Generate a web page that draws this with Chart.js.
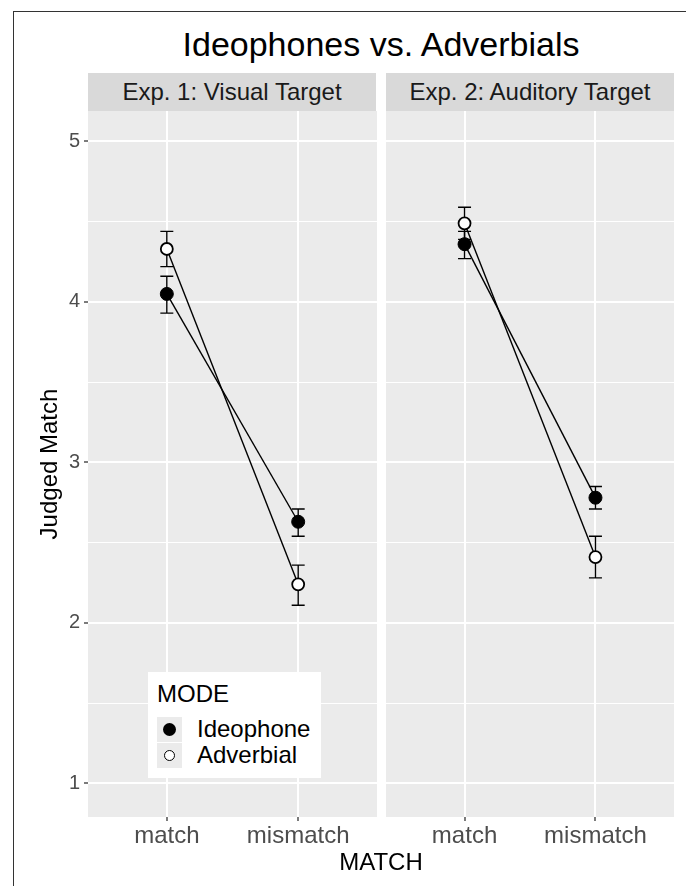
<!DOCTYPE html>
<html>
<head>
<meta charset="utf-8">
<script src="https://cdn.jsdelivr.net/npm/chart.js@4.4.1/dist/chart.umd.min.js"></script>
<style>
  body { margin: 0; background: #fff; font-family: "Liberation Sans", Arial, sans-serif; }
  #wrap { position: relative; width: 686px; height: 886px; overflow: hidden; }
  .frame { position: absolute; left: 13px; top: 11px; width: 700px; height: 900px;
           border-left: 1.5px solid #333; border-top: 1.5px solid #333; }
  .title { position: absolute; left: 88px; width: 586px; top: 24px; text-align: center;
           font-size: 34px; color: #000; line-height: 40px; }
  .strip { position: absolute; top: 73px; height: 38px; width: 288px; background: #d9d9d9;
           text-align: center; line-height: 38px; font-size: 24px; color: #1a1a1a; }
  .xtitle { position: absolute; left: 88px; width: 586px; top: 848px; text-align: center;
            font-size: 24px; color: #000; line-height: 28px; }
  canvas { position: absolute; top: 111px; }
  #legend { position: absolute; left: 148px; top: 672px; width: 173px; height: 106px; background: #fff; }
  #legend .head { position: absolute; left: 9px; top: 8px; font-size: 24px; line-height: 28px; }
  #legend .row { position: absolute; left: 9px; height: 25px; }
  #legend .key { position: absolute; left: 0; top: 0; width: 25px; height: 25px; background: #ebebeb; }
  #legend .dot { position: absolute; left: 6px; top: 6px; width: 13px; height: 13px; border-radius: 50%; box-sizing: border-box; }
  #legend .lab { position: absolute; left: 40px; top: -2px; font-size: 24px; line-height: 28px; white-space: nowrap; }
</style>
</head>
<body>
<div id="wrap">
  <div class="frame"></div>
  <div class="title">Ideophones vs. Adverbials</div>
  <div class="strip" style="left:88px" id="strip1"></div>
  <div class="strip" style="left:386px" id="strip2"></div>
  <canvas id="exp1" width="377" height="746" style="left:0"></canvas>
  <canvas id="exp2" width="288" height="746" style="left:386px"></canvas>
  <div class="xtitle">MATCH</div>
  <div id="legend"></div>
</div>
<script>
// categories and facets
const categories = ['match', 'mismatch'];
const panelTitles = ['Exp. 1: Visual Target', 'Exp. 2: Auditory Target'];
const modes = ['Ideophone', 'Adverbial'];

// means and error bar ends
const ideophoneExp1 = [4.05, 2.63];
const ideophoneExp1Lo = [3.93, 2.54];
const ideophoneExp1Hi = [4.16, 2.71];
const adverbialExp1 = [4.33, 2.24];
const adverbialExp1Lo = [4.22, 2.11];
const adverbialExp1Hi = [4.44, 2.36];

const ideophoneExp2 = [4.36, 2.78];
const ideophoneExp2Lo = [4.27, 2.71];
const ideophoneExp2Hi = [4.44, 2.85];
const adverbialExp2 = [4.49, 2.41];
const adverbialExp2Lo = [4.39, 2.28];
const adverbialExp2Hi = [4.59, 2.54];

// axis ticks
const yTicks = [1, 2, 3, 4, 5];
const yMinor = [1.5, 2.5, 3.5, 4.5];

document.getElementById('strip1').textContent = panelTitles[0];
document.getElementById('strip2').textContent = panelTitles[1];

// legend
const legend = document.getElementById('legend');
legend.innerHTML = '<div class="head">MODE</div>';
modes.forEach(function (m, i) {
  const fill = i === 0 ? 'background:#000;' : 'background:#fff;border:1.5px solid #000;width:11px;height:11px;left:7px;top:7px;';
  legend.innerHTML += '<div class="row" style="top:' + (45 + i * 26) + 'px"><div class="key"><div class="dot" style="' + fill + '"></div></div><div class="lab">' + m + '</div></div>';
});

function toPoints(values) {
  return values.map(function (v, i) { return { x: i + 1, y: v }; });
}

// panel background
const panelBg = {
  id: 'panelBg',
  beforeDraw(chart) {
    const a = chart.chartArea;
    chart.ctx.save();
    chart.ctx.fillStyle = '#ebebeb';
    chart.ctx.fillRect(a.left, a.top, a.right - a.left, a.bottom - a.top);
    chart.ctx.restore();
  }
};

// error bars drawn under lines and points
const errorBars = {
  id: 'errorBars',
  beforeDatasetsDraw(chart) {
    const ctx = chart.ctx;
    const y = chart.scales.y;
    ctx.save();
    ctx.strokeStyle = '#000';
    ctx.lineWidth = 1.4;
    chart.data.datasets.forEach(function (ds, di) {
      if (!ds.errLo) return;
      const meta = chart.getDatasetMeta(di);
      meta.data.forEach(function (pt, i) {
        const top = y.getPixelForValue(ds.errHi[i]);
        const bot = y.getPixelForValue(ds.errLo[i]);
        ctx.beginPath();
        ctx.moveTo(pt.x, top); ctx.lineTo(pt.x, bot);
        ctx.moveTo(pt.x - 6.5, top); ctx.lineTo(pt.x + 6.5, top);
        ctx.moveTo(pt.x - 6.5, bot); ctx.lineTo(pt.x + 6.5, bot);
        ctx.stroke();
      });
    });
    ctx.restore();
  }
};

function makePanel(id, ideo, ideoLo, ideoHi, adv, advLo, advHi, showY) {
  const ctx = document.getElementById(id).getContext('2d');
  new Chart(ctx, {
    type: 'scatter',
    data: {
      datasets: [{
        label: modes[0],
        data: toPoints(ideo),
        errLo: ideoLo, errHi: ideoHi,
        showLine: false,
        pointRadius: 6.5,
        pointBackgroundColor: '#000',
        pointBorderColor: '#000',
        pointBorderWidth: 1,
        order: 1
      }, {
        label: modes[1],
        data: toPoints(adv),
        errLo: advLo, errHi: advHi,
        showLine: false,
        pointRadius: 6,
        pointBackgroundColor: '#fff',
        pointBorderColor: '#000',
        pointBorderWidth: 1.8,
        order: 1
      }, {
        data: toPoints(ideo),
        showLine: true,
        pointRadius: 0,
        borderColor: '#000',
        borderWidth: 1.4,
        order: 2
      }, {
        data: toPoints(adv),
        showLine: true,
        pointRadius: 0,
        borderColor: '#000',
        borderWidth: 1.4,
        order: 2
      }]
    },
    options: {
      responsive: false,
      animation: false,
      layout: { padding: 0, autoPadding: false },
      plugins: {
        legend: { display: false },
        tooltip: { enabled: false }
      },
      scales: {
        x: {
          type: 'linear',
          min: 0.4,
          max: 2.6,
          afterBuildTicks: function (scale) {
            scale.ticks = categories.map(function (c, i) { return { value: i + 1 }; });
          },
          afterFit: function (scale) {
            scale.height = 40;
            scale.paddingLeft = 0;
            scale.paddingRight = 0;
          },
          ticks: {
            callback: function (v) { return categories[v - 1]; },
            font: { family: 'Liberation Sans', size: 24 },
            color: '#4d4d4d',
            padding: 1,
            maxRotation: 0
          },
          grid: {
            color: '#fff',
            lineWidth: 2,
            tickColor: '#333',
            tickLength: 4,
            tickWidth: 1.3
          },
          border: { display: false }
        },
        y: {
          min: 0.79,
          max: 5.19,
          afterBuildTicks: function (scale) {
            scale.ticks = yTicks.concat(yMinor).sort().map(function (v) { return { value: v }; });
          },
          afterFit: function (scale) {
            scale.width = showY ? 88 : 0;
            scale.paddingTop = 0;
            scale.paddingBottom = 0;
          },
          ticks: {
            display: showY,
            autoSkip: false,
            callback: function (v) { return yTicks.includes(v) ? String(v) : ''; },
            font: { family: 'Liberation Sans', size: 20 },
            color: '#4d4d4d',
            padding: 4
          },
          grid: {
            color: '#fff',
            lineWidth: function (c) { return yTicks.includes(c.tick.value) ? 2 : 1; },
            drawTicks: showY,
            tickColor: function (c) { return c.tick && yTicks.includes(c.tick.value) ? '#333' : 'rgba(0,0,0,0)'; },
            tickLength: 4,
            tickWidth: 1.3
          },
          border: { display: false },
          title: {
            display: showY,
            text: 'Judged Match',
            color: '#000',
            font: { family: 'Liberation Sans', size: 24 },
            padding: { top: 36, bottom: 0 }
          }
        }
      }
    },
    plugins: [panelBg, errorBars]
  });
}

makePanel('exp1', ideophoneExp1, ideophoneExp1Lo, ideophoneExp1Hi, adverbialExp1, adverbialExp1Lo, adverbialExp1Hi, true);
makePanel('exp2', ideophoneExp2, ideophoneExp2Lo, ideophoneExp2Hi, adverbialExp2, adverbialExp2Lo, adverbialExp2Hi, false);
</script>
</body>
</html>
